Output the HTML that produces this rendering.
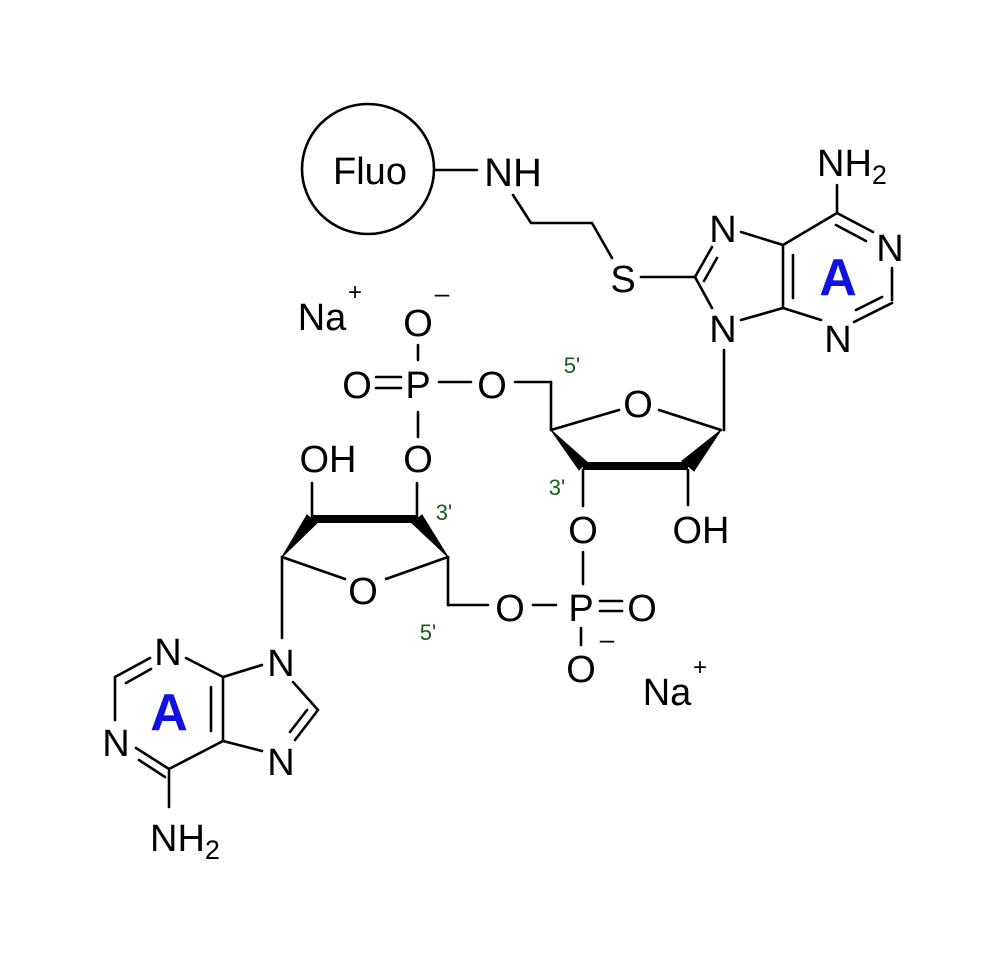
<!DOCTYPE html>
<html><head><meta charset="utf-8"><style>
html,body{margin:0;padding:0;background:#fff;}
svg{display:block;}
text{font-family:"Liberation Sans",Arial,sans-serif;}
</style></head><body>
<svg width="1000" height="962" viewBox="0 0 1000 962" xmlns="http://www.w3.org/2000/svg">
<rect width="1000" height="962" fill="#fff"/>
<g stroke="#000" stroke-width="2.6" fill="none" stroke-linecap="round">
<ellipse cx="368" cy="169" rx="66" ry="65"/>
<line x1="435" y1="170" x2="477" y2="170"/>
<polyline points="513,195 531,223 592,223 612,258"/>
<line x1="641" y1="277" x2="695" y2="277"/>
<line x1="695" y1="277" x2="712" y2="247"/>
<line x1="704" y1="281" x2="717" y2="258"/>
<line x1="695" y1="277" x2="712" y2="308"/>
<line x1="741" y1="232" x2="783" y2="245"/>
<line x1="741" y1="320" x2="783" y2="308"/>
<line x1="783" y1="245" x2="783" y2="308"/>
<line x1="793" y1="255" x2="793" y2="298"/>
<line x1="783" y1="245" x2="837" y2="213"/>
<line x1="837" y1="213" x2="837" y2="185"/>
<line x1="837" y1="213" x2="873" y2="232"/>
<line x1="836" y1="225" x2="866" y2="241"/>
<line x1="892" y1="268" x2="892" y2="300"/>
<line x1="892" y1="303" x2="854" y2="322"/>
<line x1="882" y1="297" x2="856" y2="310"/>
<line x1="821" y1="320" x2="783" y2="308"/>
<line x1="724" y1="350" x2="724" y2="430"/>
<line x1="551" y1="430" x2="619" y2="410"/>
<line x1="659" y1="410" x2="721" y2="430"/>
<line x1="551" y1="430" x2="551" y2="382"/>
<line x1="551" y1="382" x2="515" y2="382"/>
<line x1="439" y1="382" x2="471" y2="382"/>
<line x1="376" y1="377" x2="401" y2="377"/>
<line x1="376" y1="388" x2="401" y2="388"/>
<line x1="418" y1="345" x2="418" y2="360"/>
<line x1="418" y1="412" x2="418" y2="437"/>
<line x1="583" y1="470" x2="583" y2="506"/>
<line x1="583" y1="552" x2="583" y2="584"/>
<line x1="688" y1="470" x2="688" y2="505"/>
<line x1="312" y1="483" x2="312" y2="518"/>
<line x1="417" y1="483" x2="417" y2="518"/>
<line x1="282" y1="557" x2="345" y2="579"/>
<line x1="386" y1="579" x2="448" y2="557"/>
<line x1="448" y1="557" x2="448" y2="605"/>
<line x1="448" y1="605" x2="488" y2="605"/>
<line x1="533" y1="605" x2="556" y2="605"/>
<line x1="600" y1="601" x2="622" y2="601"/>
<line x1="600" y1="611" x2="622" y2="611"/>
<line x1="581" y1="628" x2="581" y2="645"/>
<line x1="282" y1="557" x2="282" y2="638"/>
<line x1="293" y1="682" x2="318" y2="710"/>
<line x1="318" y1="710" x2="295" y2="740"/>
<line x1="307" y1="710" x2="290" y2="732"/>
<line x1="262" y1="751" x2="223" y2="741"/>
<line x1="262" y1="665" x2="223" y2="677"/>
<line x1="223" y1="677" x2="223" y2="741"/>
<line x1="211" y1="687" x2="211" y2="731"/>
<line x1="223" y1="677" x2="186" y2="658"/>
<line x1="150" y1="658" x2="115" y2="677"/>
<line x1="151" y1="669" x2="126" y2="683"/>
<line x1="115" y1="677" x2="115" y2="720"/>
<line x1="136" y1="748" x2="169" y2="769"/>
<line x1="139" y1="760" x2="165" y2="777"/>
<line x1="169" y1="769" x2="223" y2="741"/>
<line x1="169" y1="771" x2="169" y2="807"/>
</g>
<g fill="#000" stroke="#000" stroke-width="1">
<polygon points="551,430 587,462 579,470"/>
<polygon points="721,430 694,471 682,461"/>
<rect x="583" y="462" width="105" height="8" stroke="none"/>
<polygon points="282,557 307,515 317,523"/>
<polygon points="448,557 412,523 422,515"/>
<rect x="312" y="515" width="105" height="8" stroke="none"/>
</g>
<g font-size="38" fill="#000" text-anchor="middle">
<text x="370" y="184" font-size="38">Fluo</text>
<text x="513" y="186" font-size="40">NH</text>
<text x="852" y="176">NH<tspan font-size="27" dy="8">2</tspan></text>
<text x="623" y="292">S</text>
<text x="723" y="242">N</text>
<text x="723" y="342">N</text>
<text x="890" y="261">N</text>
<text x="838" y="352">N</text>
<text x="638" y="417">O</text>
<text x="492" y="398">O</text>
<text x="418" y="398">P</text>
<text x="357" y="398">O</text>
<text x="418" y="336">O</text>
<text x="442" y="302" font-size="26">–</text>
<text x="322" y="330">Na</text>
<text x="355" y="300" font-size="24">+</text>
<text x="418" y="472">O</text>
<text x="328" y="472">OH</text>
<text x="583" y="543">O</text>
<text x="701" y="543">OH</text>
<text x="363" y="604">O</text>
<text x="510" y="621">O</text>
<text x="581" y="621">P</text>
<text x="642" y="621">O</text>
<text x="607" y="648" font-size="26">–</text>
<text x="581" y="682">O</text>
<text x="667" y="705">Na</text>
<text x="700" y="675" font-size="24">+</text>
<text x="281" y="676">N</text>
<text x="281" y="775">N</text>
<text x="168" y="665">N</text>
<text x="116" y="756">N</text>
<text x="185" y="851">NH<tspan font-size="27" dy="8">2</tspan></text>
</g>
<g font-size="22" fill="#1a5a1a" text-anchor="middle">
<text x="572" y="373">5'</text>
<text x="444" y="520">3'</text>
<text x="557" y="495">3'</text>
<text x="428" y="640">5'</text>
</g>
<g font-size="52" fill="#1010e0" font-weight="bold" text-anchor="middle">
<text x="838" y="295">A</text>
<text x="169" y="730">A</text>
</g>
</svg>
</body></html>
